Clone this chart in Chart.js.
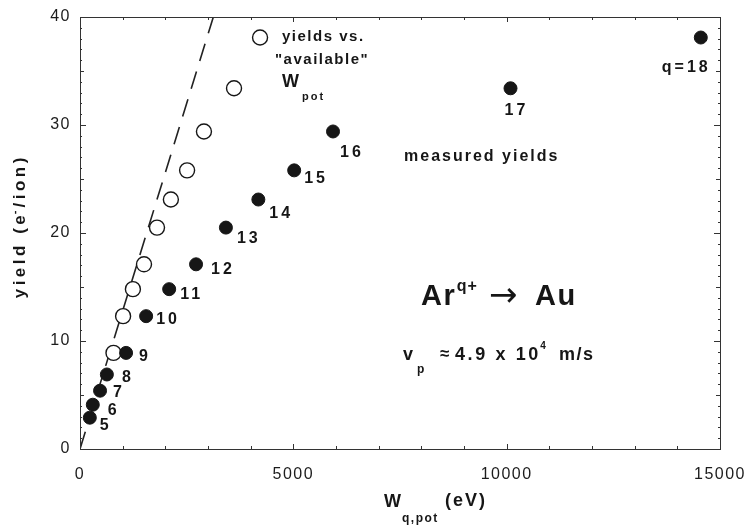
<!DOCTYPE html>
<html>
<head>
<meta charset="utf-8">
<script src="https://cdn.jsdelivr.net/npm/chart.js@4.4.0/dist/chart.umd.min.js"></script>
<style>
  html, body { margin: 0; padding: 0; background: #fff; }
  canvas { display: block; }
</style>
</head>
<body>
<canvas id="yieldChart" width="754" height="529"></canvas>
<script>
// Ar^q+ on Au: electron yield vs. potential energy
const chargeLabels = ['5', '6', '7', '8', '9', '10', '11', '12', '13', '14', '15', '16', '17', 'q=18'];
const measuredW = [230, 300, 470, 630, 1080, 1550, 2090, 2720, 3420, 4180, 5020, 5930, 10090, 14550];
const yields = [2.9, 4.1, 5.4, 6.9, 8.9, 12.3, 14.8, 17.1, 20.5, 23.1, 25.8, 29.4, 33.4, 38.1];
// "available" potential energy, q = 9 .. 18
const availableW = [785, 1010, 1240, 1500, 1805, 2130, 2510, 2905, 3610, 4220];
const availableYields = yields.slice(4);
// dashed reference line
const refLineW = [0, 3125];
const refLineY = [0, 40];
const xTicks = [0, 5000, 10000, 15000];
const yTicks = [0, 10, 20, 30, 40];

// label placement next to each filled point (px: left, baseline)
const labelOffsets = [[10, 12], [15, 10], [13, 6], [15, 8], [13, 8], [10, 8], [11, 10], [15, 10],
    [11, 15], [11, 18], [10, 13], [7, 26], [-6, 27], [-39, 34]];

const INK = '#161616';
const SANS = '"Liberation Sans", Arial, sans-serif';

// draws s and returns the x where the next glyph would start (without trailing spacing)
function put(ctx, s, x, y, font, spacing) {
    ctx.font = font;
    ctx.letterSpacing = (spacing || 0) + 'px';
    ctx.fillText(s, x, y);
    return x + ctx.measureText(s).width - (spacing || 0);
}

const framePlugin = {
    id: 'frame',
    beforeDraw(chart) {
        chart.ctx.letterSpacing = '1.5px';
    },
    afterDatasetsDraw(chart) {
        const { ctx, chartArea: a, scales: { x, y } } = chart;
        ctx.save();
        ctx.letterSpacing = '0px';
        ctx.strokeStyle = '#333';
        ctx.lineWidth = 1;
        ctx.strokeRect(a.left + 0.5, a.top + 0.5, a.right - a.left, a.bottom - a.top);

        ctx.beginPath();
        for (let v = 1000; v < 15000; v += 1000) {
            const px = Math.round(x.getPixelForValue(v)) + 0.5;
            const len = v % 5000 === 0 ? 5 : 3;
            ctx.moveTo(px, a.bottom); ctx.lineTo(px, a.bottom - len);
            ctx.moveTo(px, a.top); ctx.lineTo(px, a.top + len);
        }
        for (let v = 1; v < 40; v++) {
            const py = Math.round(y.getPixelForValue(v)) + 0.5;
            const len = v % 10 === 0 ? 6 : (v % 5 === 0 ? 4 : 2);
            ctx.moveTo(a.left, py); ctx.lineTo(a.left + len, py);
            ctx.moveTo(a.right, py); ctx.lineTo(a.right - len, py);
        }
        ctx.stroke();
        ctx.restore();
    },
    afterDraw(chart) {
        const { ctx, scales: { x, y } } = chart;
        ctx.save();
        ctx.fillStyle = INK;
        ctx.textAlign = 'left';
        ctx.textBaseline = 'alphabetic';

        // charge state labels
        chargeLabels.forEach((lab, i) => {
            const px = x.getPixelForValue(measuredW[i]);
            const py = y.getPixelForValue(yields[i]);
            put(ctx, lab, px + labelOffsets[i][0], py + labelOffsets[i][1], 'bold 16px ' + SANS, 3);
        });

        // legend texts
        const f15 = 'bold 15px ' + SANS;
        put(ctx, 'yields vs.', 282, 41, f15, 1.5);
        put(ctx, '"available"', 275, 64, f15, 1.5);
        put(ctx, 'W', 282, 87, 'bold 18px ' + SANS, 0);
        put(ctx, 'pot', 302, 100, 'bold 11px ' + SANS, 2);
        put(ctx, 'measured yields', 404, 161, 'bold 16px ' + SANS, 2);

        // reaction
        const big = 'bold 29px ' + SANS;
        let cx = put(ctx, 'Ar', 421, 305, big, 1.5);
        put(ctx, 'q+', cx + 2, 291, 'bold 16px ' + SANS, 1);
        put(ctx, '\u2192', 489, 306, '34px "DejaVu Sans", sans-serif', 0);
        put(ctx, 'Au', 535, 305, big, 1.5);

        // projectile velocity
        const f18 = 'bold 18px ' + SANS;
        put(ctx, 'v', 403, 360, f18, 0);
        put(ctx, 'p', 417, 373, 'bold 12px ' + SANS, 0);
        put(ctx, '\u2248', 440, 359, 'bold 17px ' + SANS, 0);
        cx = put(ctx, '4.9 x 10', 455, 360, f18, 2.6);
        put(ctx, '4', cx + 2, 349, 'bold 10px ' + SANS, 0);
        put(ctx, 'm/s', 559, 360, f18, 1.5);

        // x axis title
        cx = put(ctx, 'W', 384, 507, 'bold 18px ' + SANS, 0);
        put(ctx, 'q,pot', cx + 1, 522, 'bold 12px ' + SANS, 1.5);
        put(ctx, '(eV)', 445, 506, 'bold 18px ' + SANS, 2);

        // y axis title, rotated
        ctx.translate(25, 226);
        ctx.rotate(-Math.PI / 2);
        const ft = 'bold 17px ' + SANS;
        const fs = 'bold 11px ' + SANS;
        ctx.font = ft; ctx.letterSpacing = '3.5px';
        const w1 = ctx.measureText('yield (e').width;
        const w2 = ctx.measureText('/ion)').width;
        ctx.font = fs; ctx.letterSpacing = '0px';
        const ws = ctx.measureText('-').width + 1;
        cx = -(w1 + ws + w2) / 2;
        cx = put(ctx, 'yield (e', cx, 0, ft, 3.5);
        put(ctx, '-', cx + 1, -7, fs, 0);
        put(ctx, '/ion)', cx + ws + 3, 0, ft, 3.5);
        ctx.restore();
    }
};

new Chart(document.getElementById('yieldChart'), {
    type: 'scatter',
    data: {
        datasets: [
            {
                label: 'measured yields',
                data: measuredW.map((w, i) => ({ x: w, y: yields[i] })),
                pointRadius: 6.5,
                backgroundColor: INK,
                borderColor: INK,
                borderWidth: 1
            },
            {
                label: 'yields vs. available W_pot',
                data: availableW.map((w, i) => ({ x: w, y: availableYields[i] })),
                pointRadius: 7.5,
                backgroundColor: '#fff',
                borderColor: INK,
                borderWidth: 1.4
            },
            {
                type: 'line',
                label: 'reference',
                data: refLineW.map((w, i) => ({ x: w, y: refLineY[i] })),
                borderColor: '#222',
                borderWidth: 1.6,
                borderDash: [18, 11],
                pointRadius: 0,
                fill: false
            }
        ]
    },
    options: {
        responsive: false,
        animation: false,
        devicePixelRatio: 1,
        layout: { padding: { top: 17, right: 34, left: 0, bottom: 0 } },
        plugins: { legend: { display: false }, tooltip: { enabled: false } },
        scales: {
            x: {
                type: 'linear',
                min: 0,
                max: 15000,
                afterBuildTicks: s => { s.ticks = xTicks.map(v => ({ value: v })); },
                afterFit: s => { s.height = 80; },
                ticks: {
                    color: '#1c1c1c',
                    padding: 8,
                    maxRotation: 0,
                    font: { family: SANS, size: 16 },
                    callback: v => String(v)
                },
                grid: { display: false },
                border: { display: false }
            },
            y: {
                type: 'linear',
                min: 0,
                max: 40,
                afterBuildTicks: s => { s.ticks = yTicks.map(v => ({ value: v })); },
                afterFit: s => { s.width = 80; },
                ticks: {
                    color: '#1c1c1c',
                    padding: 1,
                    font: { family: SANS, size: 16 }
                },
                grid: { display: false },
                border: { display: false }
            }
        }
    },
    plugins: [framePlugin]
});
</script>
</body>
</html>
